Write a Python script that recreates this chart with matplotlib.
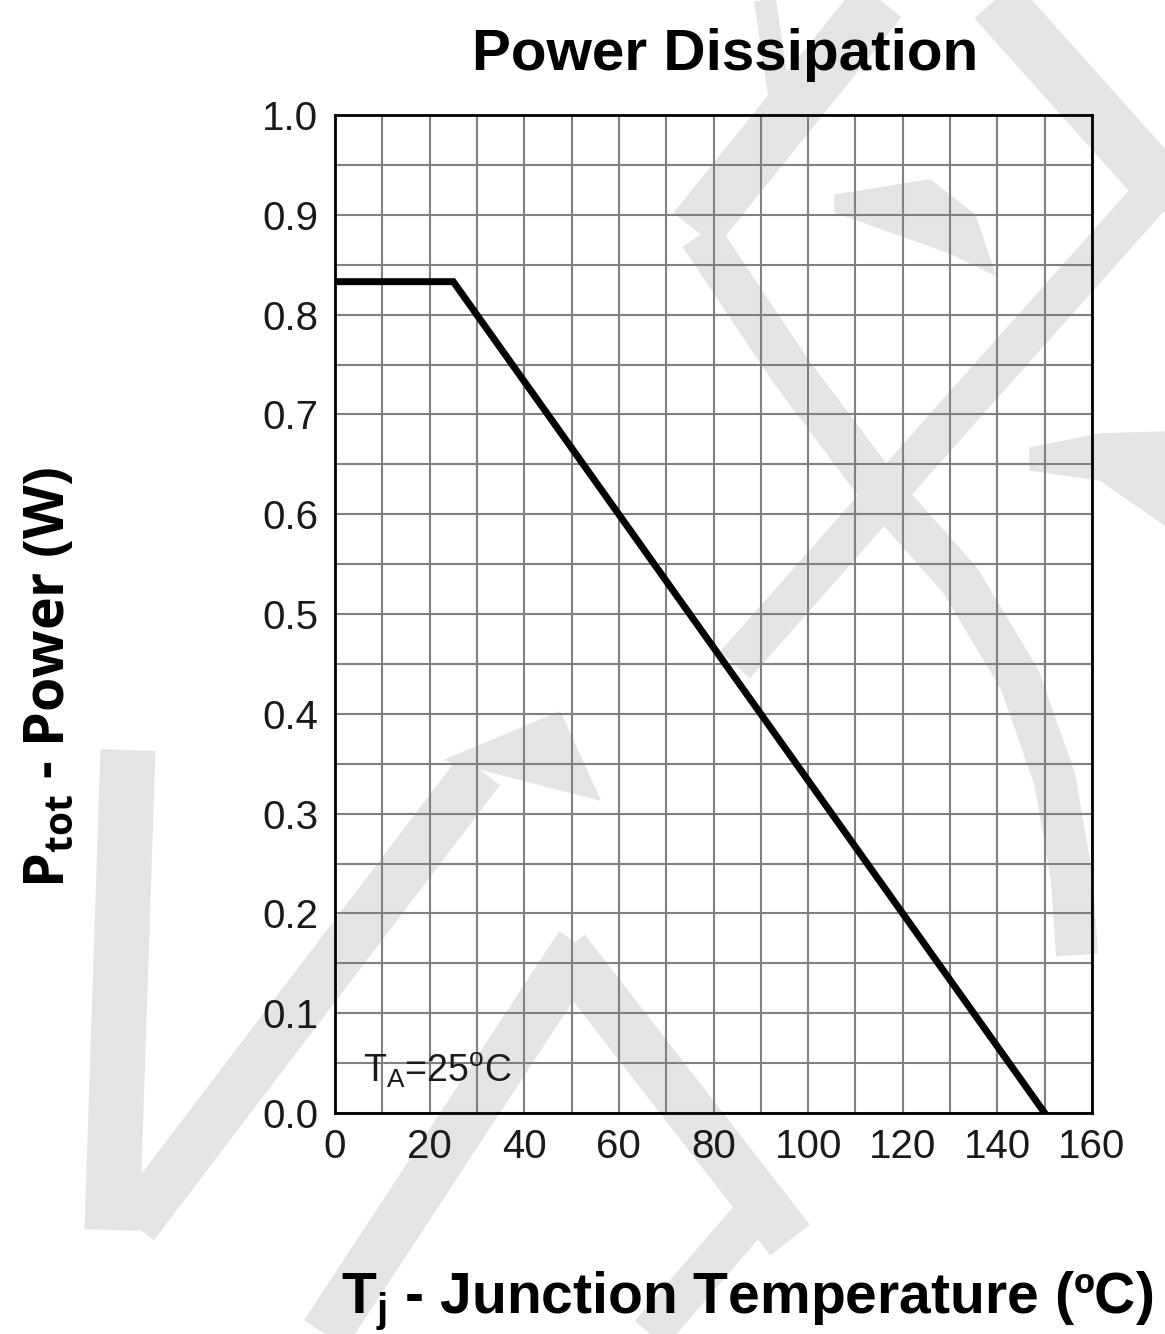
import matplotlib
matplotlib.use('Agg')
import matplotlib.pyplot as plt
from matplotlib.ticker import MultipleLocator
from matplotlib.patches import Polygon

# derating curve
temp = [0, 25, 150]
power = [0.833, 0.833, 0.0]

x_ticks = [0, 20, 40, 60, 80, 100, 120, 140, 160]
y_ticks = [0.0, 0.1, 0.2, 0.3, 0.4, 0.5, 0.6, 0.7, 0.8, 0.9, 1.0]

plt.rcParams['font.family'] = ['Liberation Sans', 'DejaVu Sans']
plt.rcParams['mathtext.fontset'] = 'custom'
plt.rcParams['mathtext.rm'] = 'Liberation Sans'

fig = plt.figure(figsize=(11.65, 13.34), dpi=100)

# light grey watermark behind everything (pixel coordinates)
bg = fig.add_axes([0, 0, 1, 1], zorder=-1)
bg.set_xlim(0, 1165)
bg.set_ylim(1334, 0)
bg.axis('off')
wm = '#e4e4e4'
px = 0.72
strokes = [
    ([128, 112], [750, 1230], 55),
    ([134, 480], [1225, 770], 50),
    ([325, 580], [1334, 945], 50),
    ([565, 790], [950, 1240], 50),
    ([650, 770], [1334, 1195], 40),
    ([700, 790, 880, 960, 1020, 1055, 1072, 1077],
     [235, 370, 490, 580, 680, 780, 880, 955], 42),
    ([695, 880], [230, 0], 55),
    ([765, 785], [0, 135], 22),
    ([995, 1165], [0, 190], 55),
    ([1165, 960, 735], [180, 410, 665], 40),
]
for xs, ys, w in strokes:
    bg.plot(xs, ys, color=wm, lw=w * px, solid_capstyle='butt')
bg.add_patch(Polygon([(445, 760), (560, 712), (600, 800)], color=wm))
bg.add_patch(Polygon([(835, 195), (930, 180), (975, 215), (995, 275), (950, 253), (835, 212)], color=wm))
bg.add_patch(Polygon([(1030, 448), (1100, 434), (1165, 432), (1165, 525), (1100, 480), (1030, 470)], color=wm))

ax = fig.add_axes([335 / 1165, 1 - 1113 / 1334, 757 / 1165, 998 / 1334])
ax.set_facecolor('none')
ax.plot(temp, power, color='black', lw=5, solid_joinstyle='miter', zorder=3)

ax.set_xlim(0, 160)
ax.set_ylim(0, 1.0)
ax.set_xticks(x_ticks)
ax.set_yticks(y_ticks)
ax.set_yticklabels([f'{v:.1f}' for v in y_ticks])
ax.xaxis.set_minor_locator(MultipleLocator(10))
ax.yaxis.set_minor_locator(MultipleLocator(0.05))
ax.grid(which='both', color='#808080', lw=1.5)
ax.set_axisbelow(True)
ax.tick_params(which='both', length=0, labelsize=29, labelcolor='#1a1a1a')
ax.tick_params(axis='y', pad=12)
ax.tick_params(axis='x', pad=11)
for s in ax.spines.values():
    s.set_linewidth(2)
    s.set_color('black')

ax.text(6.0, 0.043, r'T$_\mathregular{A}$=25$^\mathregular{o}$C', fontsize=27,
        color='#1a1a1a', va='center', ha='left')

fig.text(725 / 1165, 1 - 70 / 1334, 'Power Dissipation', fontsize=42, fontweight='bold',
         ha='center', va='baseline')
fig.text(747 / 1165, 1 - 1313 / 1334, r'T$_\mathregular{j}$ - Junction Temperature (ºC)',
         fontsize=41, fontweight='bold', ha='center', va='baseline')
fig.text(50 / 1165, 1 - 677 / 1334, r'P$_\mathregular{tot}$ - Power (W)', fontsize=40,
         fontweight='bold', family=['Open Sans', 'DejaVu Sans'], rotation=90,
         ha='center', va='center')

fig.savefig('out.png', dpi=100)
